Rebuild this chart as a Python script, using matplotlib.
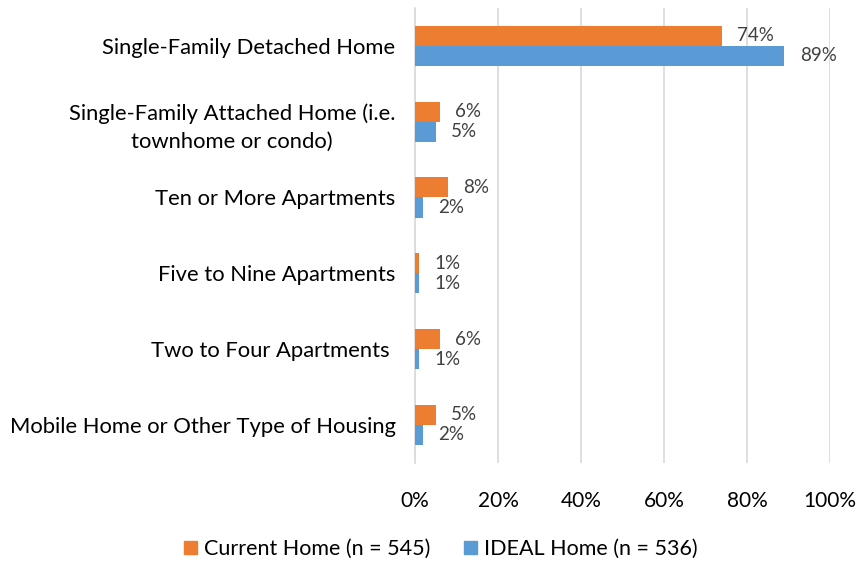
import numpy as np
import matplotlib.pyplot as plt
from matplotlib.patches import Patch

plt.rcParams['font.family'] = ['Lato', 'DejaVu Sans']

# Categorías y porcentajes
categorias = [
    'Single-Family Detached Home',
    'Single-Family Attached Home (i.e.\ntownhome or condo)',
    'Ten or More Apartments',
    'Five to Nine Apartments',
    'Two to Four Apartments ',
    'Mobile Home or Other Type of Housing',
]
actual = [74, 6, 8, 1, 6, 5]
ideal = [89, 5, 2, 1, 1, 2]
ticks = [0, 20, 40, 60, 80, 100]

c_actual = '#ED7D31'
c_ideal = '#5B9BD5'
gris = '#404040'

fig = plt.figure(figsize=(8.61, 5.63), dpi=100)
ax = fig.add_axes([0.482, 0.178, 0.482, 0.808])

y = np.arange(len(categorias))
h = 0.265
ax.barh(y - h / 2, actual, height=h, color=c_actual, zorder=3)
ax.barh(y + h / 2, ideal, height=h, color=c_ideal, zorder=3)

for i in range(len(categorias)):
    ax.annotate(f'{actual[i]}%', (actual[i], y[i] - h / 2), xytext=(11, 0),
                textcoords='offset points', ha='left', va='center',
                fontsize=13.5, color=gris)
    ax.annotate(f'{ideal[i]}%', (ideal[i], y[i] + h / 2), xytext=(11, 0),
                textcoords='offset points', ha='left', va='center',
                fontsize=13.5, color=gris)

ax.set_ylim(len(categorias) - 0.5, -0.5)
ax.set_xlim(0, 100)
ax.set_yticks(y)
ax.set_yticklabels(categorias, fontsize=15.8, color='black', linespacing=1.5,
                   multialignment='center')
ax.set_xticks(ticks)
ax.set_xticklabels([f'{t}%' for t in ticks], fontsize=15, color='black')
ax.tick_params(axis='y', length=0, pad=14)
ax.tick_params(axis='x', length=0, pad=20)
ax.xaxis.grid(True, color='#d9d9d9', linewidth=1.2, zorder=0)
for s in ['top', 'right', 'bottom']:
    ax.spines[s].set_visible(False)
ax.spines['left'].set_color('#d9d9d9')
ax.spines['left'].set_linewidth(1.2)

handles = [Patch(color=c_actual, label='Current Home (n = 545)'),
           Patch(color=c_ideal, label='IDEAL Home (n = 536)')]
fig.legend(handles=handles, loc='center', bbox_to_anchor=(0.512, 0.025), ncol=2,
           frameon=False, fontsize=15.5, handlelength=0.6, handleheight=0.6,
           handletextpad=0.3, columnspacing=1.6)

fig.savefig('out.png', dpi=100)
